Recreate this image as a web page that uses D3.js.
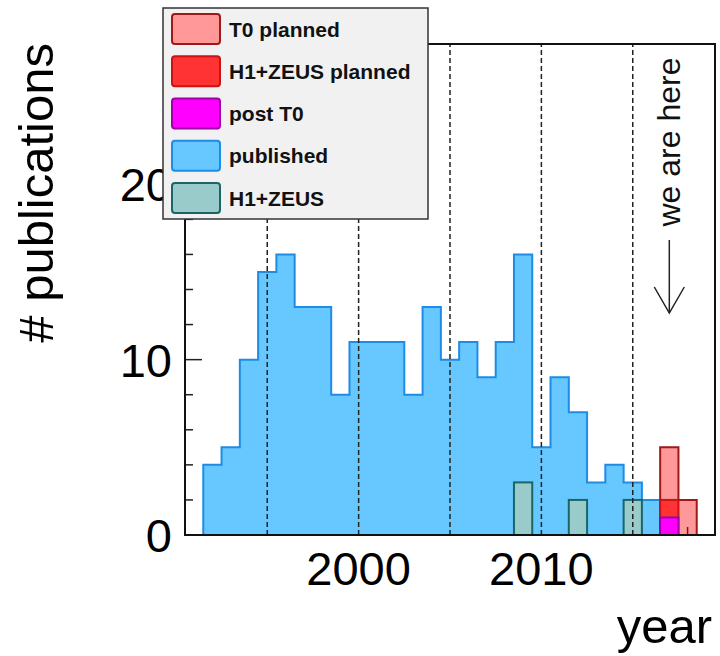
<!DOCTYPE html>
<html>
<head>
<meta charset="utf-8">
<script src="https://cdn.jsdelivr.net/npm/d3@7"></script>
<style>
  html, body { margin: 0; padding: 0; background: #fff; }
  svg { display: block; }
  text { font-family: "Liberation Sans", Arial, Helvetica, sans-serif; }
</style>
</head>
<body>
<svg id="chart" width="720" height="656"></svg>
<script>
// ---- data ----
const years = [1992,1993,1994,1995,1996,1997,1998,1999,2000,2001,2002,2003,2004,2005,2006,2007,2008,2009,2010,2011,2012,2013,2014,2015,2016,2017,2018];
const published     = [4,5,10,15,16,13,13,8,11,11,11,8,13,10,11,9,11,16,5,9,7,3,4,3,2,0,0];
const h1zeus        = [0,0,0,0,0,0,0,0,0,0,0,0,0,0,0,0,0,3,0,0,2,0,0,2,0,0,0];
const t0Planned     = [0,0,0,0,0,0,0,0,0,0,0,0,0,0,0,0,0,0,0,0,0,0,0,0,0,5,2];
const h1zeusPlanned = [0,0,0,0,0,0,0,0,0,0,0,0,0,0,0,0,0,0,0,0,0,0,0,0,0,2,0];
const postT0        = [0,0,0,0,0,0,0,0,0,0,0,0,0,0,0,0,0,0,0,0,0,0,0,0,0,1,0];
const yTicksMajor = [0,10,20];
const xTicksMajor = [2000,2010];
const dashedYears = [1995,2000,2005,2010,2015];
const legendLabels = ["T0 planned","H1+ZEUS planned","post T0","published","H1+ZEUS"];
const nowYear = 2017;

// ---- layout ----
const svg = d3.select("#chart");
const L = 185, R = 715, T = 44, B = 535;
const x = d3.scaleLinear().domain([1990.5, 2019.5]).range([L, R]);
const y = d3.scaleLinear().domain([0, 28]).range([B, T]);

const styles = {
  "T0 planned":      {fill: "rgba(255,0,0,0.4)", stroke: "#a01818"},
  "H1+ZEUS planned": {fill: "#ff3333", stroke: "#c81414"},
  "post T0":         {fill: "#ff00ff", stroke: "#a000a8"},
  "published":       {fill: "#66c8ff", stroke: "#1e8ce6"},
  "H1+ZEUS":         {fill: "#99cbcb", stroke: "#1a6666"}
};

// ---- ticks (drawn under histograms) ----
const g = svg.append("g");
const yMinor = d3.range(0, 28.01, 2);
g.selectAll(".ytick").data(yMinor).join("line")
  .attr("x1", L).attr("x2", d => L + (d % 10 === 0 ? 17 : 8))
  .attr("y1", d => y(d)).attr("y2", d => y(d))
  .attr("stroke", "#222").attr("stroke-width", 1.5);
const xMinor = d3.range(1992, 2019.01, 2);
g.selectAll(".xtick").data(xMinor).join("line")
  .attr("x1", d => x(d)).attr("x2", d => x(d))
  .attr("y1", B).attr("y2", d => B - (d % 10 === 0 ? 17 : 8))
  .attr("stroke", "#222").attr("stroke-width", 1.5);

// histogram path helper
function histPath(vals) {
  const pts = [];
  let last = -1;
  vals.forEach((v, i) => { if (v > 0) last = i; });
  const first = vals.findIndex(v => v > 0);
  if (first < 0) return "";
  pts.push([x(years[first] - 0.5), y(0)]);
  for (let i = first; i <= last; i++) {
    pts.push([x(years[i] - 0.5), y(vals[i])]);
    pts.push([x(years[i] + 0.5), y(vals[i])]);
  }
  pts.push([x(years[last] + 0.5), y(0)]);
  return d3.line()(pts);
}

// published
svg.append("path").attr("d", histPath(published) + "Z")
  .attr("fill", styles["published"].fill)
  .attr("stroke", styles["published"].stroke).attr("stroke-width", 2);

// bars helper
function bars(vals, st) {
  const data = years.map((yr, i) => ({yr, v: vals[i]})).filter(d => d.v > 0);
  svg.append("g").selectAll("rect").data(data).join("rect")
    .attr("x", d => x(d.yr - 0.5)).attr("width", d => x(d.yr + 0.5) - x(d.yr - 0.5))
    .attr("y", d => y(d.v)).attr("height", d => y(0) - y(d.v))
    .attr("fill", st.fill).attr("stroke", st.stroke).attr("stroke-width", 2);
}
bars(h1zeus, styles["H1+ZEUS"]);

// T0 planned (translucent)
svg.append("path").attr("d", histPath(t0Planned) + "Z")
  .attr("fill", styles["T0 planned"].fill)
  .attr("stroke", styles["T0 planned"].stroke).attr("stroke-width", 2);
bars(h1zeusPlanned, styles["H1+ZEUS planned"]);
bars(postT0, styles["post T0"]);

// dashed year lines
svg.append("g").selectAll("line").data(dashedYears).join("line")
  .attr("x1", d => x(d)).attr("x2", d => x(d))
  .attr("y1", B).attr("y2", T)
  .attr("stroke", "#222").attr("stroke-width", 1.5)
  .attr("stroke-dasharray", "5,3");

// frame
svg.append("rect").attr("x", L).attr("y", T).attr("width", R - L).attr("height", B - T)
  .attr("fill", "none").attr("stroke", "#111").attr("stroke-width", 2);

// tick labels
svg.append("g").selectAll("text").data(yTicksMajor).join("text")
  .attr("x", 172).attr("y", d => y(d)).attr("dy", "0.36em")
  .attr("text-anchor", "end").attr("font-size", 47).attr("fill", "#000")
  .text(d => d);
svg.append("g").selectAll("text").data(xTicksMajor).join("text")
  .attr("x", d => x(d)).attr("y", 585)
  .attr("text-anchor", "middle").attr("font-size", 47).attr("fill", "#000")
  .text(d => d);

// axis titles
svg.append("text").attr("x", 712).attr("y", 643).attr("text-anchor", "end")
  .attr("font-size", 49).attr("fill", "#000").text("year");
svg.append("text").attr("transform", "translate(53,43) rotate(-90)")
  .attr("text-anchor", "end").attr("font-size", 49).attr("fill", "#000")
  .text("# publications");

// "we are here" annotation
const ax = x(nowYear);
svg.append("text").attr("transform", `translate(${ax + 11},142) rotate(-90)`)
  .attr("text-anchor", "middle").attr("font-size", 32).attr("fill", "#111")
  .text("we are here");
const ag = svg.append("g").attr("stroke", "#222").attr("stroke-width", 1.5).attr("fill", "none");
ag.append("line").attr("x1", ax).attr("x2", ax).attr("y1", 240).attr("y2", 313);
ag.append("polyline").attr("points", `${ax-15},287 ${ax},313 ${ax+15},287`);

// legend
const lg = svg.append("g");
lg.append("rect").attr("x", 163).attr("y", 8).attr("width", 265).attr("height", 211)
  .attr("fill", "#f1f1f1").attr("stroke", "#333").attr("stroke-width", 1.5);
const rowY = d3.scalePoint().domain(legendLabels).range([29, 198]);
const rows = lg.selectAll("g.row").data(legendLabels).join("g").attr("class", "row")
  .attr("transform", d => `translate(0,${rowY(d)})`);
rows.append("rect").attr("x", 172).attr("y", -15).attr("width", 48).attr("height", 30).attr("rx", 3)
  .attr("fill", d => d === "T0 planned" ? "#ff9999" : styles[d].fill)
  .attr("stroke", d => styles[d].stroke).attr("stroke-width", 2);
rows.append("text").attr("x", 229).attr("y", 0).attr("dy", "0.36em")
  .attr("font-size", 21).attr("font-weight", "bold").attr("fill", "#111")
  .text(d => d);
</script>
</body>
</html>
